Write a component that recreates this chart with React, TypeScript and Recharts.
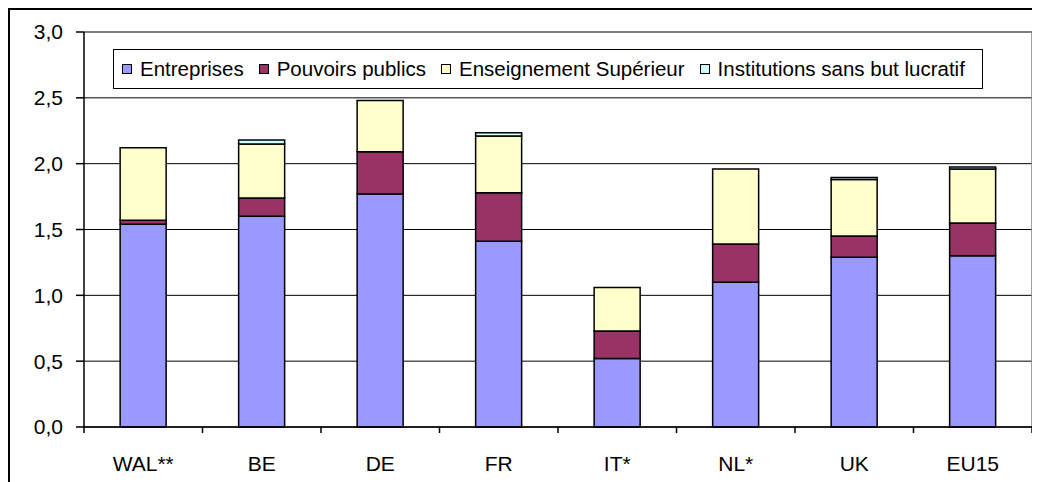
import { Bar, BarChart, CartesianGrid, Legend, XAxis, YAxis } from "recharts";

const countries = ["WAL**", "BE", "DE", "FR", "IT*", "NL*", "UK", "EU15"];
const entreprises = [1.54, 1.6, 1.77, 1.41, 0.52, 1.1, 1.29, 1.3];
const pouvoirsPublics = [0.03, 0.14, 0.32, 0.37, 0.21, 0.29, 0.16, 0.25];
const enseignementSup = [0.55, 0.41, 0.39, 0.43, 0.33, 0.57, 0.43, 0.41];
const institutions = [0, 0.03, 0, 0.025, 0, 0, 0.015, 0.015];
const yTicks = [0, 0.5, 1, 1.5, 2, 2.5, 3];

const series = [
  { key: "ent", name: "Entreprises", color: "#9999FF" },
  { key: "pp", name: "Pouvoirs publics", color: "#993366" },
  { key: "es", name: "Enseignement Supérieur", color: "#FFFFCC" },
  { key: "isbl", name: "Institutions sans but lucratif", color: "#CCFFFF" },
];

const data = countries.map((name, i) => ({
  name,
  ent: entreprises[i],
  pp: pouvoirsPublics[i],
  es: enseignementSup[i],
  isbl: institutions[i],
}));

const FONT = "'Liberation Sans', Arial, sans-serif";
const CHART_W = 1022;
const CHART_H = 472;
const Y_AXIS_W = 74;
const MARGIN = { top: 22, right: 0, bottom: 0, left: 0 };
const BAND = (CHART_W - Y_AXIS_W - MARGIN.left - MARGIN.right) / countries.length;

function formatTick(v: number) {
  return v.toFixed(1).replace(".", ",");
}

// category label plus the small ticks on the category boundaries
function CountryTick(props: any) {
  const { x, y, payload, index } = props;
  const half = BAND / 2;
  return (
    <g>
      {index === 0 && (
        <line x1={x - half} x2={x - half} y1={y} y2={y + 6} stroke="#000" strokeWidth={1.5} />
      )}
      <line x1={x + half} x2={x + half} y1={y} y2={y + 6} stroke="#000" strokeWidth={1.5} />
      <text x={x} y={y + 44} textAnchor="middle" fontSize={21} fontFamily={FONT} fill="#000">
        {payload.value}
      </text>
    </g>
  );
}

function LegendBox() {
  return (
    <div
      style={{
        boxSizing: "border-box",
        width: "100%",
        height: "100%",
        border: "1.5px solid #000",
        background: "#fff",
        display: "flex",
        alignItems: "center",
        paddingLeft: 8,
        fontFamily: FONT,
        fontSize: 20.5,
        color: "#000",
        whiteSpace: "nowrap",
      }}
    >
      {series.map((s) => (
        <span key={s.key} style={{ display: "flex", alignItems: "center", marginRight: 15 }}>
          <span
            style={{
              display: "inline-block",
              width: 8,
              height: 8,
              border: "1.5px solid #000",
              background: s.color,
              marginRight: 8,
            }}
          />
          {s.name}
        </span>
      ))}
    </div>
  );
}

export default function App() {
  return (
    <div
      style={{
        position: "fixed",
        top: 8,
        left: 8,
        width: 1024,
        height: 480,
        boxSizing: "border-box",
        borderTop: "2px solid #000",
        borderLeft: "2px solid #000",
        background: "#fff",
      }}
    >
      <BarChart
        width={CHART_W}
        height={CHART_H}
        data={data}
        margin={MARGIN}
        barCategoryGap="30.5%"
      >
        <CartesianGrid vertical={false} stroke="#000" strokeWidth={1} />
        <CartesianGrid
          stroke="#808080"
          strokeWidth={1.5}
          horizontalCoordinatesGenerator={({ offset }: any) => [offset.top]}
          verticalCoordinatesGenerator={({ offset }: any) => [offset.left + offset.width]}
        />
        <XAxis
          dataKey="name"
          height={55}
          tickLine={false}
          tickSize={0}
          tickMargin={0}
          axisLine={{ stroke: "#000", strokeWidth: 1.5 }}
          tick={<CountryTick />}
          interval={0}
        />
        <YAxis
          width={Y_AXIS_W}
          domain={[0, 3]}
          ticks={yTicks}
          tickFormatter={formatTick}
          tickSize={8}
          tickMargin={13}
          axisLine={{ stroke: "#000", strokeWidth: 1.5 }}
          tickLine={{ stroke: "#000", strokeWidth: 1.5 }}
          tick={{ fill: "#000", fontSize: 21, fontFamily: FONT }}
          interval={0}
        />
        <Legend
          layout="vertical"
          align="center"
          verticalAlign="middle"
          wrapperStyle={{ top: 39, left: 103, width: 870, height: 40 }}
          content={() => <LegendBox />}
        />
        {series.map((s) => (
          <Bar
            key={s.key}
            dataKey={s.key}
            name={s.name}
            stackId="a"
            fill={s.color}
            stroke="#000"
            strokeWidth={1.5}
            isAnimationActive={false}
          />
        ))}
      </BarChart>
    </div>
  );
}
